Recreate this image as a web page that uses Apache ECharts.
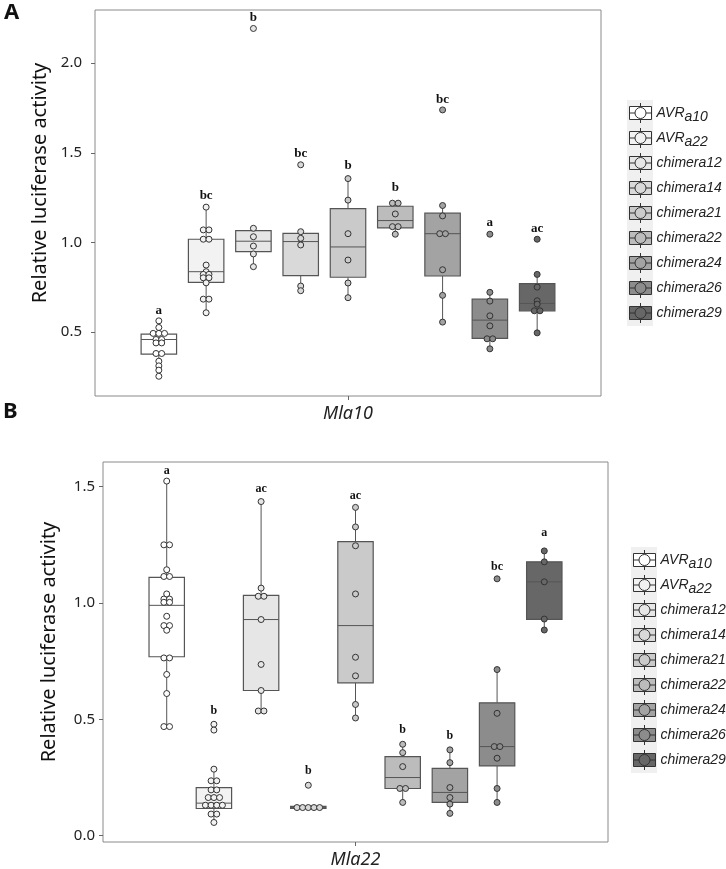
<!DOCTYPE html>
<html>
<head>
<meta charset="utf-8">
<script src="https://cdn.jsdelivr.net/npm/echarts@6.0.0/dist/echarts.min.js"></script>
<style>
  html, body { margin: 0; padding: 0; background: #fff; }
  #chart { width: 726px; height: 869px; }
</style>
</head>
<body>
<div id="chart"></div>
<script>
// group names (legend order) and box fill colours
var groups = ['AVRa10', 'AVRa22', 'chimera12', 'chimera14', 'chimera21',
              'chimera22', 'chimera24', 'chimera26', 'chimera29'];
var fills = ['#ffffff', '#f2f2f2', '#e6e6e6', '#d9d9d9', '#cacaca',
             '#bcbcbc', '#a3a3a3', '#8c8c8c', '#676767'];

// panel A (Mla10): box stats [lower whisker, q1, median, q3, upper whisker]
var boxA = [
  [0.254, 0.377, 0.459, 0.489, 0.563],
  [0.608, 0.778, 0.837, 1.018, 1.197],
  [0.865, 0.949, 1.007, 1.066, 1.079],
  [0.731, 0.815, 1.005, 1.051, 1.060],
  [0.692, 0.806, 0.975, 1.189, 1.356],
  [1.046, 1.081, 1.122, 1.202, 1.219],
  [0.556, 0.813, 1.049, 1.163, 1.206],
  [0.407, 0.465, 0.567, 0.684, 0.722],
  [0.496, 0.619, 0.660, 0.770, 0.822]
];
var pointsA = [
  [0.563, 0.526, 0.493, 0.493, 0.493, 0.459, 0.459, 0.440, 0.440, 0.381, 0.381, 0.338, 0.312, 0.288, 0.254],
  [1.197, 1.070, 1.070, 1.018, 1.018, 0.874, 0.837, 0.822, 0.822, 0.803, 0.803, 0.775, 0.684, 0.684, 0.608],
  [2.193, 1.079, 1.032, 0.980, 0.936, 0.865],
  [1.433, 1.060, 1.023, 0.986, 0.757, 0.731],
  [1.356, 1.236, 1.049, 0.902, 0.774, 0.692],
  [1.219, 1.219, 1.159, 1.088, 1.088, 1.046],
  [1.739, 1.206, 1.148, 1.049, 1.049, 0.848, 0.705, 0.556],
  [1.046, 0.722, 0.673, 0.591, 0.535, 0.463, 0.463, 0.407],
  [1.018, 0.822, 0.751, 0.675, 0.656, 0.619, 0.619, 0.496]
];
var lettersA = ['a', 'bc', 'b', 'bc', 'b', 'b', 'bc', 'a', 'ac'];
var letterYA = [0.619, 1.261, 2.253, 1.494, 1.429, 1.306, 1.796, 1.111, 1.079];

// panel B (Mla22)
var boxB = [
  [0.469, 0.769, 0.990, 1.110, 1.524],
  [0.057, 0.117, 0.140, 0.207, 0.286],
  [0.536, 0.624, 0.929, 1.033, 1.436],
  [0.117, 0.117, 0.121, 0.126, 0.126],
  [0.506, 0.657, 0.903, 1.264, 1.411],
  [0.143, 0.203, 0.250, 0.340, 0.393],
  [0.096, 0.143, 0.186, 0.289, 0.369],
  [0.143, 0.300, 0.383, 0.571, 0.714],
  [0.884, 0.930, 1.091, 1.177, 1.224]
];
var pointsB = [
  [1.524, 1.250, 1.250, 1.143, 1.114, 1.114, 1.039, 1.017, 1.017, 1.003, 1.003, 0.943, 0.903, 0.903, 0.883, 0.764, 0.764, 0.693, 0.611, 0.469, 0.469],
  [0.479, 0.454, 0.286, 0.236, 0.236, 0.197, 0.197, 0.164, 0.164, 0.164, 0.131, 0.131, 0.131, 0.131, 0.093, 0.093, 0.057],
  [1.436, 1.064, 1.029, 1.029, 0.929, 0.736, 0.624, 0.536, 0.536],
  [0.217, 0.121, 0.121, 0.121, 0.121, 0.121],
  [1.411, 1.327, 1.246, 1.039, 0.767, 0.687, 0.564, 0.506],
  [0.393, 0.357, 0.297, 0.203, 0.203, 0.143],
  [0.369, 0.314, 0.207, 0.164, 0.136, 0.096],
  [1.104, 0.714, 0.526, 0.383, 0.383, 0.333, 0.203, 0.143],
  [1.224, 1.177, 1.091, 0.931, 0.884]
];
var lettersB = ['a', 'b', 'ac', 'b', 'ac', 'b', 'b', 'bc', 'a'];
var letterYB = [1.567, 0.536, 1.490, 0.279, 1.461, 0.454, 0.431, 1.157, 1.300];

var yTicksA = [0.5, 1.0, 1.5, 2.0];
var yTicksB = [0.0, 0.5, 1.0, 1.5];

var BOX_W = 0.75;
var DOT_STEP = 0.12;
var STROKE = '#555';

var myChart = echarts.init(document.getElementById('chart'), null, { renderer: 'canvas' });

// spread equal values side by side, like a centred dotplot
function dodge(vals, xc) {
  var counts = {}, seen = {};
  vals.forEach(function (v) { counts[v] = (counts[v] || 0) + 1; });
  return vals.map(function (v) {
    var k = seen[v] || 0;
    seen[v] = k + 1;
    return [xc + (k - (counts[v] - 1) / 2) * DOT_STEP, v];
  });
}

function renderBox(params, api) {
  var x = api.value(0);
  var lo = api.coord([x, api.value(1)]);
  var q1 = api.coord([x, api.value(2)]);
  var md = api.coord([x, api.value(3)]);
  var q3 = api.coord([x, api.value(4)]);
  var hi = api.coord([x, api.value(5)]);
  var half = api.size([BOX_W, 0])[0] / 2;
  var fill = api.visual('color');
  var ln = { stroke: STROKE, lineWidth: 1 };
  return {
    type: 'group',
    children: [
      { type: 'line', shape: { x1: q3[0], y1: q3[1], x2: hi[0], y2: hi[1] }, style: ln },
      { type: 'line', shape: { x1: q1[0], y1: q1[1], x2: lo[0], y2: lo[1] }, style: ln },
      { type: 'rect', shape: { x: q3[0] - half, y: q3[1], width: half * 2, height: Math.max(q1[1] - q3[1], 1) },
        style: { fill: fill, stroke: STROKE, lineWidth: 1.2 } },
      { type: 'line', shape: { x1: md[0] - half, y1: md[1], x2: md[0] + half, y2: md[1] }, style: ln }
    ]
  };
}

function renderLetter(fontSize) {
  return function (params, api) {
    var p = api.coord([api.value(0), api.value(1)]);
    return {
      type: 'text',
      x: p[0], y: p[1],
      style: {
        text: api.value(2), align: 'center', verticalAlign: 'middle',
        fontFamily: 'Liberation Serif', fontWeight: 'bold', fontSize: fontSize, fill: '#111'
      }
    };
  };
}

function panelSeries(idx, boxes, points, letters, letterY, letterSize) {
  var out = [];
  groups.forEach(function (g, i) {
    out.push({
      name: g, type: 'custom', xAxisIndex: idx, yAxisIndex: idx, z: 2, silent: true,
      itemStyle: { color: fills[i], borderColor: STROKE },
      renderItem: renderBox,
      data: [[i + 1].concat(boxes[i])]
    });
    out.push({
      name: g, type: 'scatter', xAxisIndex: idx, yAxisIndex: idx, z: 3, silent: true,
      symbol: 'circle', symbolSize: 6,
      itemStyle: { color: fills[i], borderColor: '#333', borderWidth: 1, opacity: 1 },
      data: dodge(points[i], i + 1)
    });
  });
  out.push({
    type: 'custom', xAxisIndex: idx, yAxisIndex: idx, z: 4, silent: true,
    renderItem: renderLetter(letterSize),
    data: letters.map(function (t, i) { return [i + 1, letterY[i], t]; })
  });
  return out;
}

function xAxisFor(idx, label, margin) {
  return {
    type: 'value', gridIndex: idx, min: -0.35, max: 10.35,
    axisLine: { show: false, onZero: false }, splitLine: { show: false },
    axisTick: { show: true, length: 4, customValues: [5], lineStyle: { color: '#666' } },
    axisLabel: {
      show: true, customValues: [5], margin: margin,
      formatter: function () { return label; },
      fontFamily: 'Noto Sans', fontStyle: 'italic', fontSize: 18, color: '#222'
    }
  };
}

function yAxisFor(idx, min, max, ticks, margin, shift) {
  return {
    type: 'value', gridIndex: idx, min: min, max: max,
    name: 'Relative luciferase activity', nameLocation: 'middle', nameGap: 44,
    nameTextStyle: { fontFamily: 'Noto Sans', fontSize: 20, color: '#111', padding: [0, 0, 0, shift] },
    axisLine: { show: false, onZero: false }, splitLine: { show: false },
    axisTick: { show: true, length: 4, customValues: ticks, lineStyle: { color: '#666' } },
    axisLabel: {
      show: true, customValues: ticks, margin: margin,
      formatter: function (v) { return v.toFixed(1); },
      fontFamily: 'Noto Sans', fontSize: 15, color: '#222'
    }
  };
}

function legendFor(left, top) {
  return {
    orient: 'vertical', left: left, top: top, padding: 0,
    data: groups, selectedMode: false,
    itemWidth: 22, itemHeight: 20, itemGap: 3,
    icon: 'path://M0,3.5H22V16.5H0Z M11,0V3.5 M11,16.5V20 M0,10H5.5 M16.5,10H22 M5.5,10A5.5,5.5,0,1,1,16.5,10A5.5,5.5,0,1,1,5.5,10Z',
    itemStyle: { borderColor: '#333', borderWidth: 1 },
    formatter: function (name) {
      return name.indexOf('AVR') === 0 ? 'AVR{s|' + name.slice(3) + '}' : name;
    },
    textStyle: {
      fontFamily: 'Liberation Sans', fontStyle: 'italic', fontSize: 14, color: '#222', lineHeight: 22,
      rich: { s: { fontFamily: 'Liberation Sans', fontStyle: 'italic', fontSize: 14, color: '#222',
                   lineHeight: 22, verticalAlign: 'bottom' } }
    }
  };
}

var option = {
  animation: false,
  backgroundColor: '#fff',
  grid: [
    { left: 95, top: 10, width: 506, height: 386, show: true, borderColor: '#8a8a8a', borderWidth: 1 },
    { left: 103, top: 462, width: 505, height: 381, show: true, borderColor: '#8a8a8a', borderWidth: 1 }
  ],
  xAxis: [xAxisFor(0, 'Mla10', 9), xAxisFor(1, 'Mla22', 9)],
  yAxis: [yAxisFor(0, 0.144, 2.296, yTicksA, 13, 40), yAxisFor(1, -0.027, 1.606, yTicksB, 8, 20)],
  legend: [legendFor(629, 102), legendFor(633, 549)],
  graphic: [
    { type: 'rect', left: 627, top: 100, z: -1, shape: { width: 26, height: 226 }, style: { fill: '#f0f0f0' } },
    { type: 'rect', left: 631, top: 547, z: -1, shape: { width: 26, height: 226 }, style: { fill: '#f0f0f0' } },
    { type: 'text', left: 4, top: 2, style: { text: 'A', fontFamily: 'Noto Sans', fontWeight: 'bold', fontSize: 22, fill: '#111' } },
    { type: 'text', left: 3, top: 401, style: { text: 'B', fontFamily: 'Noto Sans', fontWeight: 'bold', fontSize: 22, fill: '#111' } }
  ],
  series: panelSeries(0, boxA, pointsA, lettersA, letterYA, 13)
    .concat(panelSeries(1, boxB, pointsB, lettersB, letterYB, 12))
};

myChart.setOption(option);
</script>
</body>
</html>
